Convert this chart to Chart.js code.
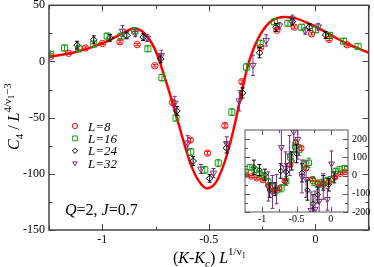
<!DOCTYPE html>
<html>
<head>
<meta charset="utf-8">
<script src="https://cdn.jsdelivr.net/npm/chart.js@4.4.1/dist/chart.umd.min.js"></script>
<style>
  html, body { margin: 0; padding: 0; background: #fff; }
  #wrap { position: relative; width: 374px; height: 267px; overflow: hidden; }
  #main { position: absolute; left: 0; top: 0; }
  #inset { position: absolute; left: 240px; top: 125px; }
</style>
</head>
<body>
<div id="wrap">
  <canvas id="main" width="374" height="267" style="width:374px;height:267px"></canvas>
  <canvas id="inset" width="134" height="100" style="width:134px;height:100px"></canvas>
</div>
<script>
// main panel: scaled C4 vs (K-Kc) L^(1/nu1)
const curveX = [-1.25, -1.138, -0.983, -0.906, -0.851, -0.813, -0.773, -0.743, -0.712, -0.673, -0.642, -0.611, -0.580, -0.549, -0.510, -0.471, -0.440, -0.409, -0.378, -0.355, -0.340, -0.316, -0.285, -0.254, -0.208, -0.146, -0.099, -0.022, 0.056, 0.133, 0.211, 0.25];
const curveY = [4.3, 7.8, 17.5, 25, 29.4, 27, 18, 6.4, -11, -35, -55.6, -76, -94, -105.8, -113, -108.7, -96.9, -79, -55.6, -35, -22, -3, 13.7, 25.5, 35.8, 39.6, 38.8, 32.9, 25.5, 17.3, 10.8, 7.8];

const x8 = [-1.242, -1.158, -1.079, -0.999, -0.917, -0.836, -0.754, -0.670, -0.587, -0.506, -0.425, -0.345, -0.257, -0.181, -0.099, -0.018, 0.064, 0.149];
const y8 = [4.5, 7.3, 12, 16, 17.5, 15, -3.8, -36.5, -70, -81.6, -57, -18, 12.5, 27.8, 30.6, 24.6, 19.6, 14.8];
const e8 = [1, 1, 1, 1, 1, 1, 1, 1.5, 1.5, 1.5, 1.5, 1.5, 1, 1, 1, 1, 1, 1];

const x16 = [-1.242, -1.177, -1.110, -1.040, -0.977, -0.911, -0.848, -0.786, -0.720, -0.654, -0.585, -0.519, -0.456, -0.392, -0.323, -0.259, -0.192, -0.129, -0.064, 0.001, 0.067, 0.132, 0.200];
const y16 = [6.4, 12, 11.3, 15.5, 22.6, 22.5, 27.3, 11.3, -14.3, -50.3, -80.5, -96.5, -90.4, -45, -4.9, 16, 35.2, 34, 30.5, 28.2, 23.3, 18.1, 13.4];
const e16 = [2.5, 2.5, 2.5, 2.5, 2.5, 2.5, 2.5, 2.5, 3, 3, 3, 3, 3, 3, 3, 3, 2.5, 2.5, 2.5, 2.5, 2.5, 2.5, 2.5];

const x24 = [-1.118, -1.040, -0.964, -0.885, -0.808, -0.726, -0.650, -0.574, -0.496, -0.417, -0.342, -0.262, -0.185, -0.108, -0.029, 0.048];
const y24 = [14.5, 19.3, 21, 23.2, 21.7, 2.3, -44, -88.6, -104, -77, -28, 7.8, 30.3, 35.5, 30.7, 23.6];
const e24 = [3.5, 3.5, 3, 3, 3, 3.5, 4, 4, 3.5, 4.5, 4.5, 4.5, 3.5, 3, 3, 3];

const x32 = [-0.905, -0.845, -0.789, -0.723, -0.660, -0.599, -0.537, -0.478, -0.416, -0.357, -0.293, -0.231, -0.169, -0.108, -0.048, 0.013];
const y32 = [27, 25, 20.8, 5.5, -37, -72.5, -95.7, -99.3, -73, -35, -3.4, 18.8, 31.8, 37.8, 27.3, 30.9];
const e32 = [5, 3, 3, 4.5, 6, 6.5, 4, 4, 6, 9, 9, 5, 3, 3.5, 3, 3];

// inset panel
const ix8 = [-1.24, -1.16, -1.08, -0.99, -0.91, -0.83, -0.75, -0.67, -0.59, -0.51, -0.43, -0.36, -0.27, -0.19, -0.11, -0.03, 0.06, 0.14, 0.21];
const iy8 = [5, -5, -15, -25, -55, -80, -70, -30, 60, 180, 150, 40, -20, -40, -45, -35, -10, 10, 20];
const ie8 = [5, 5, 5, 5, 8, 8, 8, 8, 10, 15, 12, 10, 8, 8, 8, 8, 6, 5, 5];

const ix16 = [-1.24, -1.18, -1.11, -1.04, -0.98, -0.91, -0.85, -0.79, -0.72, -0.65, -0.59, -0.52, -0.46, -0.39, -0.32, -0.26, -0.19, -0.13, -0.06, 0.0, 0.07, 0.13, 0.2];
const iy16 = [20, 45, 30, 10, 0, -35, -60, -80, -70, -30, 100, 160, 140, 60, 70, -30, -50, -40, -30, -20, 25, 35, 40];
const ie16 = [15, 15, 15, 15, 15, 20, 20, 20, 20, 25, 30, 35, 30, 25, 25, 25, 25, 20, 20, 15, 15, 15, 15];

const ix24 = [-1.12, -1.04, -0.96, -0.89, -0.81, -0.73, -0.65, -0.57, -0.5, -0.42, -0.34, -0.26, -0.19, -0.11, -0.03, 0.05];
const iy24 = [45, 30, 5, -80, -75, 25, 20, 80, 120, 15, -80, -155, -105, -40, -50, -10];
const ie24 = [40, 30, 30, 40, 35, 40, 45, 50, 50, 50, 55, 50, 45, 40, 35, 30];

const ix32 = [-0.91, -0.85, -0.79, -0.72, -0.66, -0.6, -0.54, -0.48, -0.42, -0.36, -0.29, -0.23, -0.17, -0.11, -0.05, 0.01];
const iy32 = [-60, -90, -75, 155, 40, 110, 240, 200, -5, -20, -190, -185, -140, -60, -130, 65];
const ie32 = [80, 90, 80, 100, 90, 110, 110, 110, 90, 100, 100, 100, 80, 70, 60, 70];

const xMajor = [-1, -0.5, 0];
const xMinor = [-1.25, -0.75, -0.25, 0.25];
const yMajor = [-150, -100, -50, 0, 50];
const yMinor = [-125, -75, -25, 25];
const iyMajor = [-200, -100, 0, 100, 200];
const iyMinor = [-150, -50, 50, 150];

const legendLabels = ['L=8', 'L=16', 'L=24', 'L=32'];

const RED = '#ff0000';
const GREEN = '#14a014';
const BLACK = '#000000';
const PURPLE = '#7a2e7a';
const serif = '"Liberation Serif", "DejaVu Serif", serif';

function pts(xs, ys) {
    return xs.map((x, i) => ({ x: x, y: ys[i] }));
}

function markerSet(label, xs, ys, errs, color, style, radius, rotation) {
    return {
        label: label,
        data: pts(xs, ys),
        errs: errs,
        showLine: false,
        pointStyle: style,
        pointRadius: radius,
        pointRotation: rotation || 0,
        pointBorderWidth: 1,
        borderColor: color,
        backgroundColor: 'rgba(0,0,0,0)',
        order: 1
    };
}

// frame + inward ticks
function framePlugin(cfg) {
    return {
        id: 'frame',
        beforeDraw(chart) {
            if (!cfg.fill) return;
            const a = chart.chartArea;
            const ctx = chart.ctx;
            ctx.save();
            ctx.fillStyle = '#fff';
            ctx.fillRect(a.left, a.top, a.right - a.left, a.bottom - a.top);
            ctx.restore();
        },
        afterDraw(chart) {
            const a = chart.chartArea;
            const ctx = chart.ctx;
            const xs = chart.scales.x, ys = chart.scales.y;
            ctx.save();
            ctx.strokeStyle = cfg.color;
            ctx.lineWidth = cfg.width;
            ctx.strokeRect(a.left, a.top, a.right - a.left, a.bottom - a.top);
            ctx.lineWidth = 1;
            ctx.beginPath();
            const tx = (v, len) => {
                const p = Math.round(xs.getPixelForValue(v)) + 0.5;
                ctx.moveTo(p, a.bottom); ctx.lineTo(p, a.bottom - len);
                ctx.moveTo(p, a.top); ctx.lineTo(p, a.top + len);
            };
            const ty = (v, len) => {
                const p = Math.round(ys.getPixelForValue(v)) + 0.5;
                ctx.moveTo(a.left, p); ctx.lineTo(a.left + len, p);
                ctx.moveTo(a.right, p); ctx.lineTo(a.right - len, p);
            };
            cfg.xMajor.forEach(v => tx(v, cfg.major));
            cfg.xMinor.forEach(v => tx(v, cfg.minor));
            cfg.yMajor.forEach(v => ty(v, cfg.major));
            cfg.yMinor.forEach(v => ty(v, cfg.minor));
            ctx.stroke();
            ctx.restore();
        }
    };
}

// vertical error bars, drawn through the scales
const errorBarPlugin = {
    id: 'errbars',
    afterDatasetsDraw(chart) {
        const ctx = chart.ctx;
        const a = chart.chartArea;
        const ys = chart.scales.y;
        ctx.save();
        ctx.beginPath();
        ctx.rect(a.left, a.top, a.right - a.left, a.bottom - a.top);
        ctx.clip();
        chart.data.datasets.forEach((ds, i) => {
            if (!ds.errs) return;
            const meta = chart.getDatasetMeta(i);
            ctx.strokeStyle = ds.borderColor;
            ctx.lineWidth = 1;
            meta.data.forEach((el, j) => {
                const e = ds.errs[j];
                const v = ds.data[j].y;
                const y1 = ys.getPixelForValue(v - e);
                const y2 = ys.getPixelForValue(v + e);
                const x = el.x;
                ctx.beginPath();
                ctx.moveTo(x, y1); ctx.lineTo(x, y2);
                ctx.moveTo(x - 2, y1); ctx.lineTo(x + 2, y1);
                ctx.moveTo(x - 2, y2); ctx.lineTo(x + 2, y2);
                ctx.stroke();
            });
        });
        ctx.restore();
    }
};

function drawRuns(ctx, x, y, runs) {
    runs.forEach(r => {
        ctx.font = (r.italic ? 'italic ' : '') + r.size + 'px ' + serif;
        ctx.fillText(r.t, x, y + (r.dy || 0));
        x += ctx.measureText(r.t).width;
    });
    return x;
}

const textPlugin = {
    id: 'texts',
    afterDraw(chart) {
        const ctx = chart.ctx;
        ctx.save();
        ctx.fillStyle = '#000';
        ctx.textBaseline = 'alphabetic';
        ctx.textAlign = 'left';

        // legend
        const markers = chart.data.datasets.filter(d => d.errs);
        markers.forEach((ds, i) => {
            const cy = 126 + i * 12.4;
            ctx.strokeStyle = ds.borderColor;
            ctx.fillStyle = 'rgba(0,0,0,0)';
            Chart.helpers.drawPoint(ctx, {
                pointStyle: ds.pointStyle,
                radius: ds.pointStyle === 'rect' ? 3.4 : 2.6,
                rotation: ds.pointRotation,
                borderWidth: 1
            }, 75, cy);
            ctx.fillStyle = '#000';
            const lab = legendLabels[i].split('=');
            drawRuns(ctx, 88, cy + 4.5, [
                { t: lab[0], size: 13, italic: true },
                { t: '=' + lab[1], size: 13, italic: true }
            ]);
        });

        // parameters
        drawRuns(ctx, 65, 215, [
            { t: 'Q', size: 16, italic: true },
            { t: '=2, ', size: 16 },
            { t: 'J', size: 16, italic: true },
            { t: '=0.7', size: 16 }
        ]);

        // x title
        drawRuns(ctx, 173, 263, [
            { t: '(', size: 16 },
            { t: 'K', size: 16, italic: true },
            { t: '-', size: 16 },
            { t: 'K', size: 16, italic: true },
            { t: 'c', size: 11, italic: true, dy: 4 },
            { t: ') ', size: 16 },
            { t: 'L', size: 16, italic: true },
            { t: '1/\u03bd', size: 11, dy: -8 },
            { t: '1', size: 8, dy: -5 }
        ]);

        // y title (rotated)
        ctx.translate(19, 150);
        ctx.rotate(-Math.PI / 2);
        drawRuns(ctx, 0, 0, [
            { t: 'C', size: 16, italic: true },
            { t: '4', size: 11, dy: 4 },
            { t: ' / ', size: 16 },
            { t: 'L', size: 16, italic: true },
            { t: '4/\u03bd', size: 11, dy: -8 },
            { t: '1', size: 8, dy: -5 },
            { t: '\u22123', size: 11, dy: -8 }
        ]);
        ctx.restore();
    }
};

new Chart(document.getElementById('main'), {
    type: 'scatter',
    data: {
        datasets: [
            markerSet('L=8', x8, y8, e8, RED, 'circle', 3.2),
            markerSet('L=16', x16, y16, e16, GREEN, 'rect', 4.3),
            markerSet('L=24', x24, y24, e24, BLACK, 'rectRot', 3.3),
            markerSet('L=32', x32, y32, e32, PURPLE, 'triangle', 3.8, 180),
            {
                label: 'fit',
                data: pts(curveX, curveY),
                showLine: true,
                pointRadius: 0,
                borderColor: RED,
                borderWidth: 2.5,
                cubicInterpolationMode: 'monotone',
                order: 5
            }
        ]
    },
    options: {
        responsive: false,
        animation: false,
        devicePixelRatio: 1,
        layout: { padding: { top: 4, right: 2, left: 0, bottom: 0 } },
        plugins: { legend: { display: false }, tooltip: { enabled: false } },
        scales: {
            x: {
                type: 'linear', min: -1.25, max: 0.25,
                grid: { display: false, drawTicks: false },
                border: { display: false },
                ticks: { font: { family: serif, size: 12 }, color: '#000', padding: 3, autoSkip: false, maxRotation: 0, callback: v => String(v) },
                afterBuildTicks: s => { s.ticks = xMajor.map(v => ({ value: v })); },
                afterFit: s => { s.height = 37; s.paddingLeft = 0; s.paddingRight = 0; }
            },
            y: {
                type: 'linear', min: -150, max: 50,
                grid: { display: false, drawTicks: false },
                border: { display: false },
                ticks: { font: { family: serif, size: 12 }, color: '#000', padding: 4, autoSkip: false, callback: v => String(v) },
                afterBuildTicks: s => { s.ticks = yMajor.map(v => ({ value: v })); },
                afterFit: s => { s.width = 49; s.paddingTop = 0; s.paddingBottom = 0; }
            }
        }
    },
    plugins: [
        framePlugin({ color: '#444', width: 1.5, major: 6, minor: 3.5, xMajor, xMinor, yMajor, yMinor, fill: false }),
        errorBarPlugin,
        textPlugin
    ]
});

new Chart(document.getElementById('inset'), {
    type: 'scatter',
    data: {
        datasets: [
            markerSet('L=8', ix8, iy8, ie8, RED, 'circle', 2.8),
            markerSet('L=16', ix16, iy16, ie16, GREEN, 'rect', 3.8),
            markerSet('L=24', ix24, iy24, ie24, BLACK, 'rectRot', 2.8),
            markerSet('L=32', ix32, iy32, ie32, PURPLE, 'triangle', 3.4, 180)
        ]
    },
    options: {
        responsive: false,
        animation: false,
        devicePixelRatio: 1,
        layout: { padding: { top: 3, right: 0, left: 2, bottom: 0 } },
        plugins: { legend: { display: false }, tooltip: { enabled: false } },
        scales: {
            x: {
                type: 'linear', min: -1.25, max: 0.25,
                grid: { display: false, drawTicks: false },
                border: { display: false },
                ticks: { font: { family: serif, size: 10 }, color: '#000', padding: 1, autoSkip: false, maxRotation: 0, callback: v => String(v) },
                afterBuildTicks: s => { s.ticks = xMajor.map(v => ({ value: v })); },
                afterFit: s => { s.height = 13; s.paddingLeft = 0; s.paddingRight = 0; }
            },
            y: {
                type: 'linear', position: 'right', min: -200, max: 250,
                grid: { display: false, drawTicks: false },
                border: { display: false },
                ticks: { font: { family: serif, size: 10 }, color: '#000', padding: 4, autoSkip: false, callback: v => String(v) },
                afterBuildTicks: s => { s.ticks = iyMajor.map(v => ({ value: v })); },
                afterFit: s => { s.width = 26; s.paddingTop = 0; s.paddingBottom = 0; }
            }
        }
    },
    plugins: [
        framePlugin({ color: '#555', width: 1, major: 5, minor: 3, xMajor, xMinor: [-0.75, -0.25], yMajor: iyMajor, yMinor: iyMinor, fill: true }),
        errorBarPlugin
    ]
});
</script>
</body>
</html>
